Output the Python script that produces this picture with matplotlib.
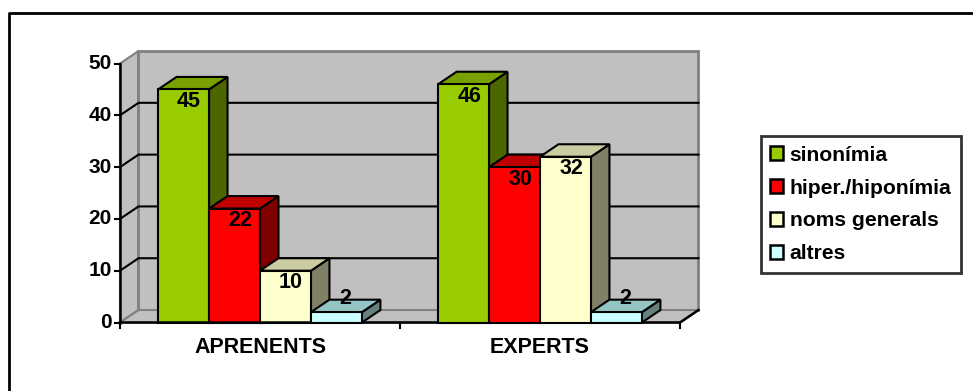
import matplotlib.pyplot as plt
from matplotlib.patches import Polygon, Rectangle, Patch

plt.rcParams['font.family'] = ['Liberation Sans', 'DejaVu Sans']
plt.rcParams['font.weight'] = 'bold'

categories = ['APRENENTS', 'EXPERTS']
series = ['sinonímia', 'hiper./hiponímia', 'noms generals', 'altres']
values = [[45, 46],   # sinonímia
          [22, 30],   # hiper./hiponímia
          [10, 32],   # noms generals
          [2, 2]]     # altres
yticks = [0, 10, 20, 30, 40, 50]

# front, side, top colours for each series (Excel style 3D)
front = ['#99CC00', '#FF0000', '#FFFFCC', '#CCFFFF']
side = ['#4C6600', '#800000', '#808066', '#668080']
top = ['#77A000', '#C00000', '#CCCCA3', '#95C4C4']

wall = '#C0C0C0'
wall_edge = '#808080'

fig = plt.figure(figsize=(9.73, 3.91), dpi=100)
ax = fig.add_axes([0, 0, 1, 1])
ax.set_xlim(-0.4286, 3.0464)
ax.set_ylim(-13.22, 62.26)
ax.axis('off')

dx, dy = 0.066, 2.41      # depth offset of the 3D box
w = 0.182                 # bar width
ncat = len(categories)
ymax = yticks[-1]

# walls and floor
ax.add_patch(Polygon([(0, 0), (0, ymax), (dx, ymax + dy), (dx, dy)],
                     closed=True, fc=wall, ec=wall_edge, lw=1.5, zorder=1))
ax.add_patch(Polygon([(dx, dy), (dx, ymax + dy), (ncat + dx, ymax + dy), (ncat + dx, dy)],
                     closed=True, fc=wall, ec=wall_edge, lw=2, zorder=1))
ax.add_patch(Polygon([(0, 0), (ncat, 0), (ncat + dx, dy), (dx, dy)],
                     closed=True, fc=wall, ec=wall_edge, lw=1.5, zorder=1))

# gridlines
for v in yticks[1:-1]:
    ax.plot([0, dx, ncat + dx], [v, v + dy, v + dy], color='black', lw=1.5, zorder=2)

# axes lines and ticks
ax.plot([0, 0], [0, ymax], color='black', lw=1.8, zorder=2)
ax.plot([0, ncat, ncat + dx], [0, 0, dy], color='black', lw=1.8, zorder=6)
for v in yticks:
    ax.plot([-0.018, 0], [v, v], color='black', lw=1.5, zorder=2)
    ax.text(-0.03, v, str(v), ha='right', va='center', fontsize=15, fontweight='bold')
for i in range(ncat + 1):
    ax.plot([i, i], [0, -1.0], color='black', lw=1.5, zorder=6)
for i, cat in enumerate(categories):
    ax.text(i + 0.5, -4.9, cat, ha='center', va='center', fontsize=15.5, fontweight='bold')

# bars
for i in range(ncat):
    for j in range(len(series)):
        v = values[j][i]
        x0 = i + 0.5 - 2 * w + j * w
        x1 = x0 + w
        z = 3 + i * 4 + j
        ax.add_patch(Polygon([(x1, 0), (x1 + dx, dy), (x1 + dx, v + dy), (x1, v)],
                             closed=True, fc=side[j], ec='black', lw=1.5, zorder=z))
        ax.add_patch(Polygon([(x0, v), (x1, v), (x1 + dx, v + dy), (x0 + dx, v + dy)],
                             closed=True, fc=top[j], ec='black', lw=1.5, zorder=z))
        ax.add_patch(Rectangle((x0, 0), w, v, fc=front[j], ec='black', lw=1.5, zorder=z))
        if v > 5:
            lx, ly = x0 + w / 2 + dx * 0.3, v - 2.3
        else:
            lx, ly = x0 + w / 2 + dx * 0.5, v + dy + 0.3
        ax.text(lx, ly, str(v), ha='center', va='center', fontsize=15.5,
                fontweight='bold', zorder=20)

handles = [Patch(fc=front[j], ec='black', lw=1.8) for j in range(len(series))]
leg = fig.legend(handles, series, loc='upper left', bbox_to_anchor=(0.782, 0.652),
                 frameon=True, fancybox=False, edgecolor='black', fontsize=15.2,
                 handlelength=0.62, handleheight=0.62, handletextpad=0.3,
                 labelspacing=0.66, borderpad=0.45, borderaxespad=0)
leg.get_frame().set_linewidth(2)
for t in leg.get_texts():
    t.set_fontweight('bold')

# outer chart border (only top and left edges fall inside the image)
fig.add_artist(plt.Line2D([9 / 973, 9 / 973, 1], [0, 1 - 13 / 391, 1 - 13 / 391],
                          transform=fig.transFigure, color='black', lw=2))

fig.savefig('out.png', dpi=100)
